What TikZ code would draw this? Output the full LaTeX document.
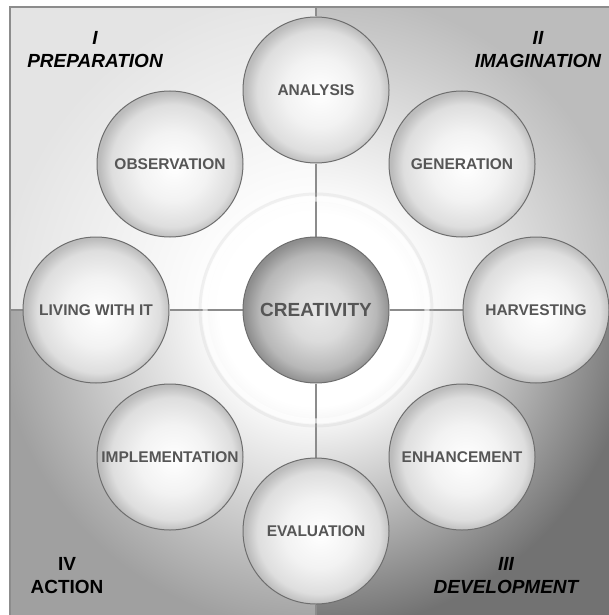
\documentclass[tikz,border=0pt]{standalone}
\usepackage{xcolor}
\usepackage{fontspec}
\setmainfont{Liberation Sans}
\usepackage{tikz}
\usetikzlibrary{positioning}
\definecolor{quadone}{HTML}{E4E4E4}
\definecolor{quadtwo}{HTML}{BCBCBC}
\definecolor{quadthree}{HTML}{727272}
\definecolor{quadfour}{HTML}{A0A0A0}
\definecolor{framegray}{HTML}{8C8C8C}
\definecolor{rimgray}{HTML}{6E6E6E}
\definecolor{labelgray}{HTML}{565656}
\definecolor{ballout}{HTML}{BCBCBC}
\definecolor{coreout}{HTML}{8E8E8E}

\pgfdeclarelayer{board}
\pgfdeclarelayer{links}
\pgfsetlayers{board,links,main}

% soft glow for each quarter of the board (25bp is the rim of the shaded circle)
\pgfdeclareradialshading{glowone}{\pgfpointorigin}{color(0bp)=(white); color(6bp)=(white); color(20bp)=(quadone); color(50bp)=(quadone)}
\pgfdeclareradialshading{glowtwo}{\pgfpointorigin}{color(0bp)=(white); color(6bp)=(white); color(20bp)=(quadtwo); color(50bp)=(quadtwo)}
\pgfdeclareradialshading{glowthree}{\pgfpointorigin}{color(0bp)=(white); color(6bp)=(white); color(20bp)=(quadthree); color(50bp)=(quadthree)}
\pgfdeclareradialshading{glowfour}{\pgfpointorigin}{color(0bp)=(white); color(6bp)=(white); color(20bp)=(quadfour); color(50bp)=(quadfour)}
% bubbles
\pgfdeclareradialshading{bubble}{\pgfpoint{1.5bp}{-1bp}}{color(0bp)=(white); color(12bp)=(white!95!black); color(21bp)=(white!87!black); color(25bp)=(ballout); color(50bp)=(ballout)}
\pgfdeclareradialshading{core}{\pgfpoint{1bp}{-1bp}}{color(0bp)=(white!91!black); color(10bp)=(white!86!black); color(20bp)=(white!72!black); color(25bp)=(coreout); color(50bp)=(coreout)}

\tikzset{
  stage/.style={circle, draw=rimgray, line width=1pt, minimum size=146pt, inner sep=0pt,
    shading=bubble, text=labelgray, font=\bfseries\fontsize{15.5}{17}\selectfont},
  hub/.style={stage, shading=core, font=\bfseries\fontsize{19}{21}\selectfont},
  spoke/.style={draw=framegray, line width=1.8pt},
  phase/.style={align=center, text=black, font=\bfseries\itshape\fontsize{19}{23}\selectfont},
}

\begin{document}
\begin{tikzpicture}[x=1pt, y=-1pt]
  \useasboundingbox (0,0) rectangle (609,615);
  \clip (0,0) rectangle (609,615);

  \node[hub] (crea) at (316,310) {CREATIVITY};
  \node[stage] (ana) at (316,90) {ANALYSIS};
  \node[stage] (gen) at (462,164) {GENERATION};
  \node[stage] (harv) at (536,310) {HARVESTING};
  \node[stage] (enh) at (462,457) {ENHANCEMENT};
  \node[stage] (eval) at (316,531) {EVALUATION};
  \node[stage] (impl) at (170,457) {IMPLEMENTATION};
  \node[stage] (liv) at (96,310) {LIVING WITH IT};
  \node[stage] (obs) at (170,164) {OBSERVATION};

  \node[phase] (prep) at (95,50) {I\\PREPARATION};
  \node[phase] (imag) at (538,50) {II\\IMAGINATION};
  \node[phase] (dev) at (506,576) {III\\DEVELOPMENT};
  \node[phase, font=\bfseries\fontsize{19}{23}\selectfont] (act) at (67,576) {IV\\ACTION};

  \coordinate (ntop) at (316,7);
  \coordinate (sbot) at (316,650);
  \coordinate (wedge) at (10,310);
  \coordinate (eedge) at (650,310);

  % quarters
  \begin{pgfonlayer}{board}
    \fill[white] (0,0) rectangle (609,615);
    \foreach \ax/\ay/\bx/\by/\qc/\gl in {10/7/316/311/quadone/glowone, 316/7/650/311/quadtwo/glowtwo,
        10/311/316/650/quadfour/glowfour, 316/311/650/650/quadthree/glowthree}{
      \begin{scope}
        \clip (\ax,\ay) rectangle (\bx,\by);
        \fill[\qc] (\ax,\ay) rectangle (\bx,\by);
        \shade[shading=\gl] (crea.center) circle (400pt);
      \end{scope}
    }
    \draw[framegray, line width=1.5pt] (10,7) rectangle (650,650);
  \end{pgfonlayer}

  % cross and the faint ring round the hub
  \begin{pgfonlayer}{links}
    \draw[spoke] (crea) -- (ana) (crea) -- (harv) (crea) -- (eval) (crea) -- (liv);
    \draw[spoke] (ana) -- (ntop) (harv) -- (eedge) (eval) -- (sbot) (liv) -- (wedge);
    \draw[black!25, line width=3pt, opacity=0.2] (crea.center) circle (116pt);
    \draw[white, line width=5pt, opacity=0.6] (crea.center) circle (111pt);
  \end{pgfonlayer}
\end{tikzpicture}
\end{document}
